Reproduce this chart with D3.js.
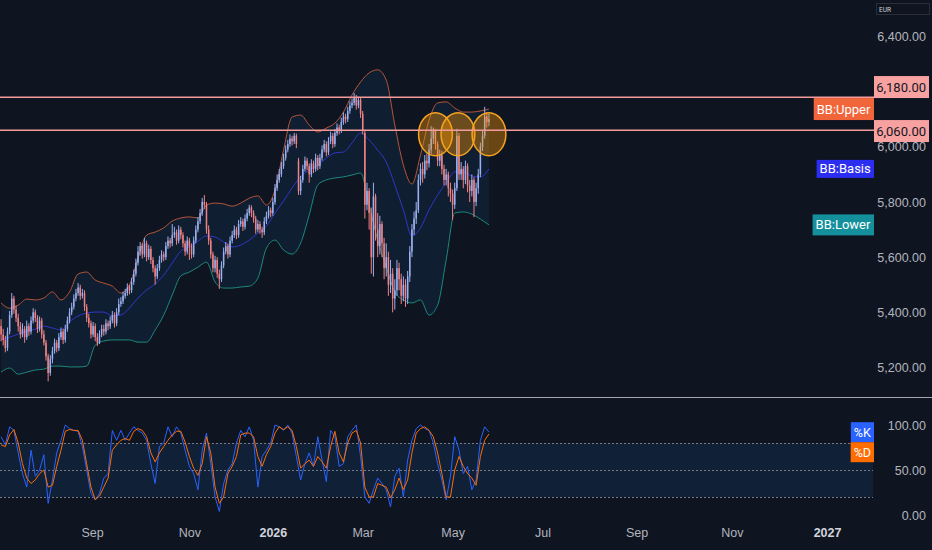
<!DOCTYPE html>
<html lang="en">
<head>
<meta charset="utf-8">
<title>Bollinger Bands + Stochastic</title>
<script src="https://cdn.jsdelivr.net/npm/d3@7"></script>
<style>
  html, body { margin: 0; padding: 0; background: #0f1421; }
  svg { display: block; font-family: Roboto, "Noto Sans", sans-serif; }
  .axis path, .axis line { display: none; }
  .axis text { fill: #b2b5be; font-size: 12px; }
</style>
</head>
<body>
<div id="chart"></div>
<script>
// ---- data (daily bars, Jul 2025 - May 2026) ----
const opens = [5350,5320,5300,5270,5330,5390,5450,5410,5380,5350,
5320,5340,5310,5350,5330,5370,5400,5380,5340,5370,
5320,5290,5240,5180,5230,5260,5290,5270,5310,5330,
5300,5340,5370,5400,5420,5450,5470,5490,5460,5470,
5420,5380,5360,5320,5350,5310,5290,5320,5340,5330,
5360,5350,5370,5390,5360,5400,5430,5440,5460,5470,
5490,5480,5510,5540,5580,5620,5640,5610,5650,5600,
5630,5590,5560,5530,5560,5590,5610,5600,5640,5660,
5650,5680,5690,5660,5700,5680,5650,5620,5660,5640,
5610,5660,5700,5730,5760,5800,5790,5700,5660,5610,
5560,5590,5540,5520,5570,5620,5640,5610,5660,5680,
5700,5680,5720,5730,5710,5740,5760,5780,5760,5740,
5700,5720,5700,5690,5730,5750,5770,5760,5800,5850,
5880,5900,5930,5960,5990,6010,6030,6020,6040,5950,
5840,5880,5920,5950,5930,5900,5940,5920,5960,5930,
5960,5990,6010,5980,6020,6040,6010,6050,6070,6060,
6090,6110,6100,6130,6150,6160,6180,6150,6170,6120,
6050,5790,5840,5760,5600,5820,5700,5640,5720,5650,
5560,5600,5500,5540,5450,5480,5560,5520,5460,5500,
5450,5530,5620,5700,5740,5770,5880,5920,5900,5950,
5940,5990,6030,6060,6010,5950,5970,5920,5880,5900,
5850,5830,5790,5850,6040,5900,5920,5880,5930,5860,
5840,5880,5800,5850,5900,6000,6040,6110,6090];

const highs = [5375,5340,5315,5345,5405,5470,5460,5425,5395,5365,
5360,5350,5370,5360,5385,5415,5410,5390,5385,5380,
5335,5300,5250,5245,5275,5305,5300,5325,5345,5340,
5355,5385,5415,5435,5465,5485,5506,5500,5485,5480,
5430,5395,5370,5365,5360,5325,5335,5355,5355,5375,
5370,5385,5405,5400,5415,5450,5455,5475,5485,5505,
5500,5525,5555,5595,5640,5655,5650,5670,5660,5645,
5640,5600,5570,5575,5605,5625,5620,5655,5675,5670,
5720,5710,5700,5715,5710,5690,5660,5675,5670,5650,
5675,5715,5745,5775,5815,5825,5800,5715,5670,5620,
5605,5600,5555,5585,5635,5655,5650,5675,5695,5715,
5710,5735,5745,5740,5755,5775,5790,5788,5770,5750,
5735,5730,5710,5745,5765,5785,5780,5815,5865,5900,
5920,5945,5975,6005,6025,6045,6040,6050,6048,5960,
5895,5935,5965,5960,5940,5955,5950,5975,5970,5975,
6005,6025,6020,6035,6055,6050,6065,6085,6080,6105,
6125,6120,6145,6165,6175,6195,6188,6182,6178,6130,
6060,5870,5850,5780,5870,5830,5760,5750,5730,5670,
5650,5620,5590,5560,5520,5590,5580,5540,5530,5520,
5550,5640,5720,5765,5800,5900,5940,5945,5970,5975,
6010,6075,6070,6065,6020,5990,5985,5935,5920,5910,
5870,5845,5870,6065,6050,5945,5930,5950,5940,5880,
5900,5890,5870,5920,6015,6060,6145,6125,6120];

const lows = [5295,5280,5255,5260,5320,5380,5395,5365,5330,5305,
5310,5290,5300,5315,5320,5360,5365,5325,5330,5305,
5280,5225,5150,5170,5215,5250,5255,5260,5300,5285,
5290,5330,5360,5390,5410,5440,5460,5445,5450,5405,
5365,5345,5305,5310,5295,5278,5285,5310,5315,5320,
5335,5340,5360,5345,5350,5390,5420,5430,5450,5460,
5465,5470,5500,5530,5570,5605,5595,5600,5585,5590,
5575,5545,5500,5520,5550,5580,5585,5590,5630,5635,
5640,5670,5645,5650,5665,5635,5605,5610,5590,5595,
5600,5650,5690,5720,5750,5775,5685,5645,5595,5545,
5545,5525,5485,5510,5560,5610,5595,5600,5650,5670,
5665,5670,5710,5695,5700,5730,5750,5745,5725,5685,
5690,5685,5670,5680,5720,5740,5745,5750,5790,5840,
5870,5890,5920,5950,5980,6000,6005,6010,5995,5826,
5825,5870,5910,5915,5870,5890,5905,5910,5915,5920,
5950,5980,5965,5970,6010,5995,6000,6040,6045,6050,
6080,6085,6090,6120,6140,6150,6135,6140,6105,6045,
5740,5770,5700,5540,5530,5660,5600,5610,5600,5520,
5530,5460,5470,5400,5410,5460,5480,5430,5440,5420,
5430,5510,5600,5680,5720,5760,5860,5870,5885,5915,
5925,5975,6010,5990,5930,5930,5900,5860,5860,5820,
5800,5735,5775,5840,5880,5880,5850,5865,5835,5800,
5820,5745,5785,5830,5890,5985,6030,6070,6075];

const closes = [5320,5300,5270,5330,5390,5450,5410,5380,5350,5320,
5340,5310,5350,5330,5370,5400,5380,5340,5370,5320,
5290,5240,5180,5230,5260,5290,5270,5310,5330,5300,
5340,5370,5400,5420,5450,5470,5490,5460,5470,5420,
5380,5360,5320,5350,5310,5290,5320,5340,5330,5360,
5350,5370,5390,5360,5400,5430,5440,5460,5470,5490,
5480,5510,5540,5580,5620,5640,5610,5650,5600,5630,
5590,5560,5530,5560,5590,5610,5600,5640,5660,5650,
5680,5690,5660,5700,5680,5650,5620,5660,5640,5610,
5660,5700,5730,5760,5800,5790,5700,5660,5610,5560,
5590,5540,5520,5570,5620,5640,5610,5660,5680,5700,
5680,5720,5730,5710,5740,5760,5780,5760,5740,5700,
5720,5700,5690,5730,5750,5770,5760,5800,5850,5880,
5900,5930,5960,5990,6010,6030,6020,6040,6010,5840,
5880,5920,5950,5930,5900,5940,5920,5960,5930,5960,
5990,6010,5980,6020,6040,6010,6050,6070,6060,6090,
6110,6100,6130,6150,6160,6180,6150,6170,6120,6060,
5790,5840,5760,5600,5820,5700,5640,5720,5650,5560,
5600,5500,5540,5450,5480,5560,5520,5460,5500,5450,
5530,5620,5700,5740,5770,5880,5920,5900,5950,5940,
5990,6030,6060,6010,5950,5970,5920,5880,5900,5850,
5830,5790,5850,6040,5900,5920,5880,5930,5860,5840,
5880,5800,5850,5900,6000,6040,6110,6090,6100];

// Bollinger Bands (20, 2), read every 4th bar
const bandStep = 4;
const bbUpper = [5434,5415,5426,5448,5445,5452,5474,5445,5474,5539,
5546,5517,5506,5495,5470,5499,5597,5680,5691,5706,
5731,5742,5746,5742,5789,5796,5793,5785,5796,5814,
5822,5789,5843,5988,6108,6115,6079,6054,6068,6086,
6126,6188,6235,6268,6279,6242,6079,5934,5865,5970,
6097,6159,6163,6141,6126,6126,6130,6137];
const bbBasis = [5300,5310,5321,5332,5339,5350,5343,5336,5365,5387,
5397,5401,5401,5387,5390,5416,5452,5481,5503,5535,
5579,5622,5637,5658,5677,5673,5655,5637,5644,5662,
5687,5713,5760,5804,5851,5891,5916,5934,5959,5978,
5981,6014,6050,6025,5988,5945,5862,5771,5677,5706,
5771,5825,5869,5909,5909,5894,5891,5920];
const bbLower = [5183,5198,5176,5183,5191,5194,5205,5205,5202,5202,
5205,5281,5296,5300,5300,5300,5292,5292,5336,5390,
5463,5532,5546,5564,5582,5510,5488,5488,5492,5495,
5524,5633,5662,5626,5611,5651,5753,5862,5880,5887,
5891,5898,5905,5789,5662,5564,5474,5445,5434,5445,
5390,5426,5590,5760,5764,5756,5738,5717];

// Stochastic %K / %D, read every 2nd bar
const stochStep = 2;
const stochK = [87,78,98,94,69,46,31,72,43,50,
67,13,39,69,83,100,96,94,93,76,
50,24,17,24,41,46,94,83,94,83,
91,98,94,91,83,57,35,76,80,98,
87,98,91,72,54,46,28,72,91,57,
20,4,35,50,57,80,94,87,98,83,
31,65,72,80,100,98,94,100,91,65,
39,57,69,54,87,61,37,94,87,54,
57,87,94,100,65,20,13,28,41,35,
28,9,43,52,20,61,83,96,100,96,
94,80,57,39,17,43,87,72,46,54,
28,39,83,98,92];
const stochD = [78,76,89,95,80,57,41,35,39,46,
50,31,33,54,72,93,95,94,94,83,
57,31,17,21,31,41,72,78,83,85,
83,93,96,94,87,69,59,69,76,83,
89,93,93,81,65,52,44,57,87,69,
31,13,20,46,54,65,89,91,91,87,
65,54,67,76,91,98,95,98,94,76,
52,57,61,54,65,59,52,76,93,69,
59,80,91,94,80,31,20,20,35,33,
31,19,28,41,28,39,69,91,96,98,
94,87,69,46,20,20,50,65,54,46,
41,33,65,83,90];
const stochLevels = [80, 50, 20];

// horizontal levels and highlighted retests
const levels = [6180, 6060];
const circleBars = [203, 213.5, 228];
const circlePrices = [6046, 6046, 6046];

// axes (6,200 is hidden behind the 6,180 tag)
const priceTicks = [5200, 5400, 5600, 5800, 6000, 6400];
const stochTicks = [0, 50, 100];
const monthBars = [42.5, 88, 127, 169, 211, 253, 297, 341.5, 386];
const monthLabels = ["Sep", "Nov", "2026", "Mar", "May", "Jul", "Sep", "Nov", "2027"];

// ---- layout ----
const W = 932, H = 550;
const plotRight = 873;
const mainBottom = 397;
const UP = "#9bb0f0", DOWN = "#f28282";

const svg = d3.select("#chart").append("svg")
  .attr("width", W).attr("height", H)
  .attr("viewBox", [0, 0, W, H]);

svg.append("rect").attr("width", W).attr("height", H).attr("fill", "#0f1421");

const x = d3.scaleLinear().domain([-0.5, 407]).range([0, 872]);
const yP = d3.scaleLinear().domain([5200, 6400]).range([367.5, 36.5]);
const yS = d3.scaleLinear().domain([0, 100]).range([515, 425]);

const defs = svg.append("defs");
defs.append("clipPath").attr("id", "clipMain")
  .append("rect").attr("x", 0).attr("y", 0).attr("width", plotRight).attr("height", mainBottom);
defs.append("clipPath").attr("id", "clipStoch")
  .append("rect").attr("x", 0).attr("y", mainBottom + 1).attr("width", plotRight).attr("height", H - mainBottom);

// ---- main pane ----
const main = svg.append("g").attr("clip-path", "url(#clipMain)");

const bandX = (d, k) => x(k * bandStep);
const bandArea = d3.area()
  .x((d, k) => x(k * bandStep))
  .y0((d, k) => yP(bbLower[k]))
  .y1(d => yP(d))
  .curve(d3.curveMonotoneX);
const bandLine = d3.line().x(bandX).y(d => yP(d)).curve(d3.curveMonotoneX);

main.append("path").datum(bbUpper).attr("d", bandArea)
  .attr("fill", "rgba(33,150,243,0.08)");
main.append("path").datum(bbUpper).attr("d", bandLine)
  .attr("fill", "none").attr("stroke", "#d0603c").attr("stroke-opacity", 0.85).attr("stroke-width", 1);
main.append("path").datum(bbBasis).attr("d", bandLine)
  .attr("fill", "none").attr("stroke", "#2f37c8").attr("stroke-width", 1);
main.append("path").datum(bbLower).attr("d", bandLine)
  .attr("fill", "none").attr("stroke", "#1b8a7c").attr("stroke-width", 1);

// candles
const bars = d3.range(closes.length);
const col = i => closes[i] >= opens[i] ? UP : DOWN;
main.append("g").selectAll("line").data(bars).join("line")
  .attr("x1", i => x(i)).attr("x2", i => x(i))
  .attr("y1", i => yP(highs[i])).attr("y2", i => yP(lows[i]))
  .attr("stroke", col).attr("stroke-width", 1);
main.append("g").selectAll("rect").data(bars).join("rect")
  .attr("x", i => x(i) - 0.75).attr("width", 1.5)
  .attr("y", i => yP(Math.max(opens[i], closes[i])))
  .attr("height", i => Math.max(1, Math.abs(yP(opens[i]) - yP(closes[i]))))
  .attr("fill", col);

// horizontal levels
svg.append("g").selectAll("line").data(levels).join("line")
  .attr("x1", 0).attr("x2", 874)
  .attr("y1", d => yP(d)).attr("y2", d => yP(d))
  .attr("stroke", "#f49b9b").attr("stroke-width", 1.5);

// circles
const circleRBars = 7.9, circleRPrice = 78;
main.append("g").selectAll("ellipse").data(circleBars).join("ellipse")
  .attr("cx", d => x(d))
  .attr("cy", (d, i) => yP(circlePrices[i]))
  .attr("rx", x(circleRBars) - x(0))
  .attr("ry", yP(0) - yP(circleRPrice))
  .attr("fill", "rgba(255,152,0,0.38)")
  .attr("stroke", "#f5a31f").attr("stroke-width", 1.5);

// pane divider
svg.append("line").attr("x1", 0).attr("x2", W)
  .attr("y1", mainBottom + 0.5).attr("y2", mainBottom + 0.5)
  .attr("stroke", "#a3a6af").attr("stroke-width", 1);

// ---- stochastic pane ----
const st = svg.append("g").attr("clip-path", "url(#clipStoch)");
st.append("rect").attr("x", 0).attr("width", plotRight)
  .attr("y", yS(stochLevels[0])).attr("height", yS(stochLevels[2]) - yS(stochLevels[0]))
  .attr("fill", "rgba(33,150,243,0.1)");
st.append("g").selectAll("line").data(stochLevels).join("line")
  .attr("x1", 0).attr("x2", plotRight)
  .attr("y1", d => yS(d) + 0.5).attr("y2", d => yS(d) + 0.5)
  .attr("stroke", "#787b86").attr("stroke-dasharray", "2,2").attr("stroke-width", 1);

const stochLine = d3.line().x((d, k) => x(k * stochStep)).y(d => yS(d));
st.append("path").datum(stochK).attr("d", stochLine)
  .attr("fill", "none").attr("stroke", "#2962ff").attr("stroke-width", 1);
st.append("path").datum(stochD).attr("d", stochLine)
  .attr("fill", "none").attr("stroke", "#ff6d00").attr("stroke-width", 1);

// ---- axes ----
svg.append("g").attr("class", "axis").attr("transform", "translate(926,0)")
  .call(d3.axisLeft(yP).tickValues(priceTicks).tickFormat(d3.format(",.2f")).tickSize(0).tickPadding(0))
  .selectAll("text").style("font-size", "12.5px");

svg.append("g").attr("class", "axis").attr("transform", "translate(926,0)")
  .call(d3.axisLeft(yS).tickValues(stochTicks).tickFormat(d3.format(".2f")).tickSize(0).tickPadding(0))
  .selectAll("text").style("font-size", "12.5px");

const axT = svg.append("g").attr("class", "axis").attr("transform", "translate(0,525)")
  .call(d3.axisBottom(x).tickValues(monthBars).tickFormat((d, i) => monthLabels[i]).tickSize(0).tickPadding(3));
axT.selectAll("text")
  .style("font-size", "12.5px")
  .style("font-weight", (d, i) => /\d/.test(monthLabels[i]) ? 700 : 400)
  .style("fill", (d, i) => /\d/.test(monthLabels[i]) ? "#d1d4dc" : "#b2b5be");

// currency box
svg.append("rect").attr("x", 876.5).attr("y", 3.5).attr("width", 53).attr("height", 11)
  .attr("fill", "#0f1421").attr("stroke", "#2a2e39");
svg.append("text").attr("x", 879).attr("y", 11.5).text("EUR")
  .attr("fill", "#d1d4dc").style("font-size", "6.5px");

// ---- tags ----
function placeTags(tags) {
  const placed = [];
  tags.forEach(t => {
    let c = t.y;
    placed.forEach(p => {
      const gap = (t.h + p.h) / 2;
      if (Math.abs(c - p.c) < gap) c = c < p.c ? p.c - gap : p.c + gap;
    });
    t.c = c;
    placed.push(t);
  });
  return tags;
}

function drawTag(t) {
  const g = svg.append("g");
  const txt = g.append("text").text(t.text)
    .attr("fill", t.color).style("font-size", t.size + "px")
    .attr("dy", "0.35em").attr("y", t.c);
  const w = t.w || txt.node().getBBox().width + 6;
  const x0 = t.right - w;
  g.insert("rect", "text").attr("x", x0).attr("y", t.c - t.h / 2)
    .attr("width", w).attr("height", t.h).attr("fill", t.fill);
  if (t.w) txt.attr("x", t.right - 3).attr("text-anchor", "end");
  else txt.attr("x", x0 + 3);
}

const fmt = d3.format(",.2f");
const last = a => a[a.length - 1];
const priceTags = placeTags([
  { text: "BB:Upper", y: yP(last(bbUpper)), h: 22, right: 874, fill: "#f0653a", color: "#ffffff", size: 13 },
  { text: "BB:Basis", y: yP(last(bbBasis)), h: 18, right: 874, fill: "#2b2ef0", color: "#ffffff", size: 13 },
  { text: "BB:Lower", y: yP(last(bbLower)), h: 21, right: 874, fill: "#13909c", color: "#ffffff", size: 13 },
  { text: fmt(levels[0]), y: yP(levels[0]), h: 22, right: 929, w: 55, fill: "#f7a1a1", color: "#131722", size: 13 },
  { text: fmt(levels[1]), y: yP(levels[1]), h: 22, right: 929, w: 55, fill: "#f7a1a1", color: "#131722", size: 13 }
]);
priceTags.forEach(drawTag);

const stochTags = placeTags([
  { text: "%K", y: yS(last(stochK)), h: 20, right: 874, fill: "#2962ff", color: "#ffffff", size: 12.5 },
  { text: "%D", y: yS(last(stochD)), h: 20, right: 874, fill: "#ff6d00", color: "#ffffff", size: 12.5 }
]);
stochTags.forEach(drawTag);
</script>
</body>
</html>
